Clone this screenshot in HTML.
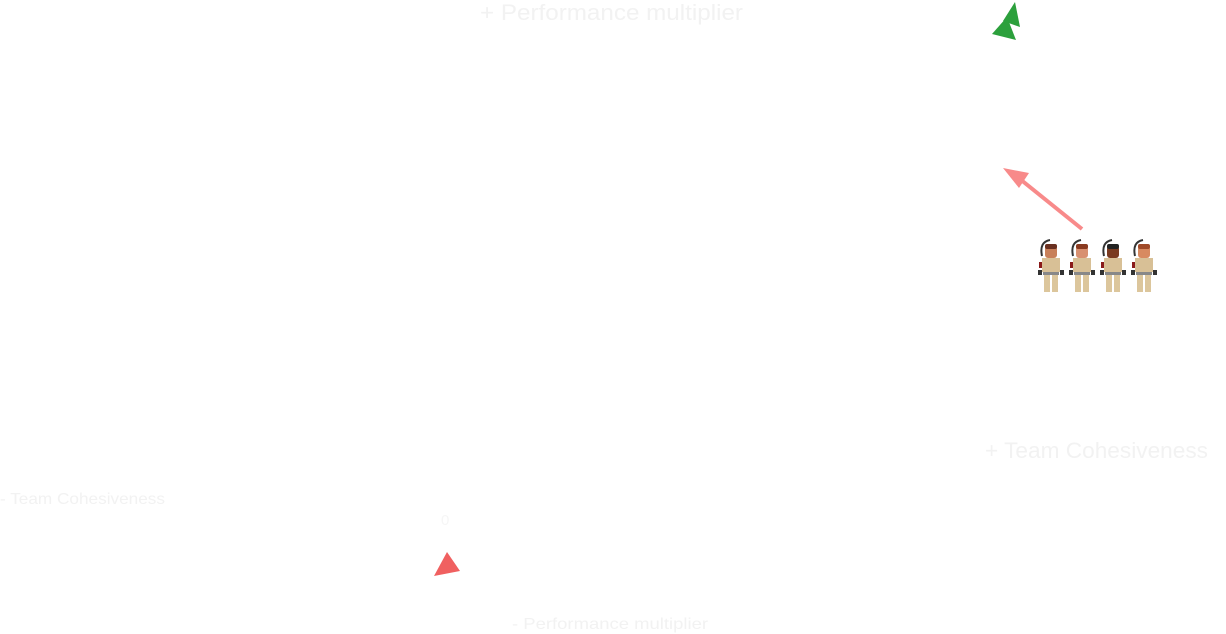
<!DOCTYPE html>
<html><head><meta charset="utf-8"><style>
html,body{margin:0;padding:0;background:#fff;width:1226px;height:634px;overflow:hidden}
svg{display:block;font-family:"Liberation Sans",sans-serif}
</style></head><body>
<svg width="1226" height="634">
<text x="480" y="20" textLength="263" lengthAdjust="spacingAndGlyphs" font-size="22" fill="#f2f2f2">+ Performance multiplier</text>
<text x="985" y="458" textLength="223" lengthAdjust="spacingAndGlyphs" font-size="22" fill="#f2f2f2">+ Team Cohesiveness</text>
<text x="0" y="504" textLength="165" lengthAdjust="spacingAndGlyphs" font-size="16" fill="#f2f2f2">- Team Cohesiveness</text>
<text x="512" y="629" textLength="196" lengthAdjust="spacingAndGlyphs" font-size="16" fill="#f2f2f2">- Performance multiplier</text>
<text x="441" y="525" font-size="15" fill="#f6f6f6">0</text>
<g id="marks"></g>
</svg>
<script>
const labels=["goal","start","team"];
const xs=[1010,447,1097];
const ys=[20,565,268];
const svgNS="http://www.w3.org/2000/svg";
const g=document.getElementById('marks');
function mk(t,a){const e=document.createElementNS(svgNS,t);for(const k in a)e.setAttribute(k,a[k]);g.appendChild(e);return e;}
let gx=xs[0],gy=ys[0];
let e1=mk('polygon',{points:`${gx+5},${gy-18} ${gx+10},${gy+7} ${gx-7},${gy+1}`,fill:'#2ca03c'});


let e2=mk('polygon',{points:`${gx-3},${gy-3} ${gx+6},${gy+20} ${gx-18},${gy+14}`,fill:'#2ca03c'});


let sx=xs[1],sy=ys[1];
let e3=mk('polygon',{points:`${sx},${sy-13} ${sx+13},${sy+6} ${sx-13},${sy+11}`,fill:'#f06060'});


let tx=xs[2],ty=ys[2];
let l=mk('line',{x1:tx-15,y1:ty-39,x2:tx-82,y2:ty-93,stroke:'#f88a8a','stroke-width':4});


let h=mk('polygon',{points:`${tx-94},${ty-100} ${tx-78},${ty-80} ${tx-68},${ty-95}`,fill:'#f88a8a'});


const skins=['#c8805a','#d89070','#7a3a20','#d88a60'];
const hair=['#6a3020','#8a3a20','#222','#a04a28'];
for(let i=0;i<4;i++){
 const cx=tx-46+i*31;
 const f=mk('g',{});
 
 
 const add=(t,a)=>{const e=document.createElementNS(svgNS,t);for(const k in a)e.setAttribute(k,a[k]);f.appendChild(e);};
 add('path',{d:`M${cx-9},${ty-12} q-3,-14 8,-16`,stroke:'#333','stroke-width':2,fill:'none'});
 add('rect',{x:cx-12,y:ty-6,width:5,height:6,fill:'#8a1a1a'});
 add('rect',{x:cx-6,y:ty-22,width:12,height:12,rx:3,fill:skins[i]});
 add('rect',{x:cx-6,y:ty-24,width:12,height:5,rx:2,fill:hair[i]});
 add('rect',{x:cx-9,y:ty-10,width:18,height:14,fill:'#d8c096'});
 add('rect',{x:cx-8,y:ty+4,width:16,height:3,fill:'#888'});
 add('rect',{x:cx-7,y:ty+7,width:6,height:17,fill:'#dcc69c'});
 add('rect',{x:cx+1,y:ty+7,width:6,height:17,fill:'#dcc69c'});
 add('rect',{x:cx-13,y:ty+2,width:4,height:5,fill:'#333'});
 add('rect',{x:cx+9,y:ty+2,width:4,height:5,fill:'#333'});
}
</script>
</body></html>
